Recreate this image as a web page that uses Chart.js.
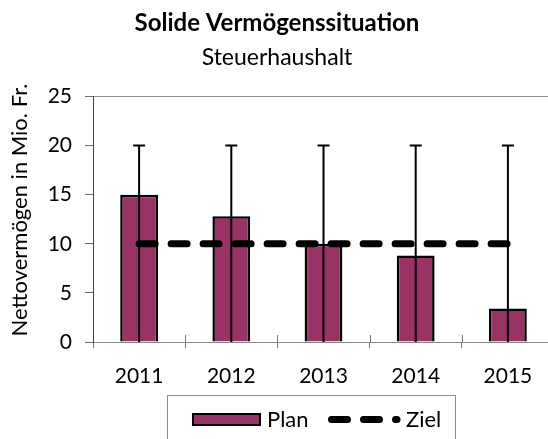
<!DOCTYPE html>
<html>
<head>
<meta charset="utf-8">
<script src="https://cdn.jsdelivr.net/npm/chart.js@4.4.1/dist/chart.umd.min.js"></script>
<style>
  body { margin: 0; background: #fff; overflow: hidden; }
  #wrap { width: 556px; height: 439px; }
</style>
</head>
<body>
<div id="wrap"><canvas id="chart"></canvas></div>
<script>
const years = ['2011', '2012', '2013', '2014', '2015'];
const planValues = [15.0, 12.8, 10.0, 8.8, 3.4];
const errorTop = [20, 20, 20, 20, 20];
const zielValues = [10, 10, 10, 10, 10];
const yTicks = [0, 5, 10, 15, 20, 25];

const plum = '#993366';
const font = 'Lato';

Chart.defaults.font.family = font;
Chart.defaults.color = '#000';

// vertical lines from 0 up to errorTop, drawn right after the bars
const errorLines = {
  id: 'errorLines',
  afterDatasetDraw(chart, args) {
    if (args.index !== 0) return;
    const ctx = chart.ctx;
    const x = chart.scales.x, y = chart.scales.y;
    ctx.save();
    ctx.strokeStyle = '#000';
    ctx.lineWidth = 2;
    errorTop.forEach((v, i) => {
      const px = x.getPixelForValue(i);
      ctx.beginPath();
      ctx.moveTo(px, y.getPixelForValue(0));
      ctx.lineTo(px, y.getPixelForValue(v));
      ctx.moveTo(px - 6, y.getPixelForValue(v));
      ctx.lineTo(px + 6, y.getPixelForValue(v));
      ctx.stroke();
    });
    ctx.restore();
  }
};

// y axis title + boxed legend at the bottom
const extras = {
  id: 'extras',
  afterDraw(chart) {
    const ctx = chart.ctx;
    ctx.save();
    ctx.fillStyle = '#000';
    ctx.font = '22px ' + font;
    ctx.textAlign = 'center';
    ctx.textBaseline = 'middle';
    ctx.translate(20, 210);
    ctx.rotate(-Math.PI / 2);
    ctx.fillText('Nettovermögen in Mio. Fr.', 0, 0);
    ctx.restore();

    // x tick marks poke a little above the axis too
    const xs = chart.scales.x;
    ctx.save();
    ctx.strokeStyle = '#777';
    ctx.lineWidth = 1;
    for (let i = 1; i < years.length; i++) {
      const px = Math.round((xs.getPixelForValue(i - 1) + xs.getPixelForValue(i)) / 2) + 0.5;
      ctx.beginPath();
      ctx.moveTo(px, xs.top - 7);
      ctx.lineTo(px, xs.top);
      ctx.stroke();
    }
    ctx.restore();

    const ds = chart.data.datasets;
    ctx.save();
    ctx.strokeStyle = '#8c8c8c';
    ctx.lineWidth = 1;
    ctx.strokeRect(167.5, 395.5, 288, 60);

    ctx.fillStyle = plum;
    ctx.fillRect(193, 414, 67, 11);
    ctx.strokeStyle = '#000';
    ctx.lineWidth = 2;
    ctx.strokeRect(193, 414, 67, 11);

    ctx.fillStyle = '#000';
    ctx.font = '22px ' + font;
    ctx.textAlign = 'left';
    ctx.textBaseline = 'middle';
    ctx.fillText(ds[0].label, 267, 420);

    ctx.lineWidth = 7;
    ctx.lineCap = 'round';
    ctx.setLineDash([16, 16]);
    ctx.beginPath();
    ctx.moveTo(331.5, 419.5);
    ctx.lineTo(397, 419.5);
    ctx.stroke();
    ctx.setLineDash([]);
    ctx.fillText(ds[1].label, 406, 420);
    ctx.restore();
  }
};

new Chart(document.getElementById('chart'), {
  type: 'bar',
  data: {
    labels: years,
    datasets: [{
      type: 'bar',
      label: 'Plan',
      data: planValues,
      backgroundColor: plum,
      borderColor: '#000',
      borderWidth: 2.5,
      categoryPercentage: 1,
      barPercentage: 0.41,
      order: 1
    }, {
      type: 'line',
      label: 'Ziel',
      data: zielValues,
      borderColor: '#000',
      borderWidth: 7,
      borderDash: [16, 16],
      borderCapStyle: 'round',
      pointRadius: 0,
      fill: false,
      order: 0
    }]
  },
  options: {
    responsive: true,
    maintainAspectRatio: false,
    animation: false,
    layout: { padding: { left: 0, right: 2, top: 0, bottom: 0 } },
    plugins: {
      legend: { display: false },
      tooltip: { enabled: false },
      title: {
        display: true,
        text: 'Solide Vermögenssituation',
        font: { size: 24, weight: 'bold' },
        padding: { top: 9, bottom: 6 }
      },
      subtitle: {
        display: true,
        text: 'Steuerhaushalt',
        color: '#000',
        font: { size: 23 },
        padding: { top: 0, bottom: 25 }
      }
    },
    scales: {
      x: {
        grid: { offset: true, drawOnChartArea: false, tickLength: 6, tickColor: '#777' },
        border: { color: '#868686', width: 1 },
        ticks: { font: { size: 21 }, padding: 16, color: '#000' },
        afterFit: s => { s.height = 97; }
      },
      y: {
        min: 0,
        max: 25,
        afterBuildTicks: s => { s.ticks = yTicks.map(v => ({ value: v })); },
        grid: {
          color: c => (c.tick && c.tick.value === 25 ? '#8c8c8c' : 'rgba(0,0,0,0)'),
          tickColor: '#6e6e6e',
          tickLength: 8
        },
        border: { color: '#404040', width: 1 },
        ticks: { font: { size: 21 }, padding: 13, color: '#000' },
        afterFit: s => { s.width = 93; }
      }
    }
  },
  plugins: [errorLines, extras]
});
</script>
</body>
</html>
